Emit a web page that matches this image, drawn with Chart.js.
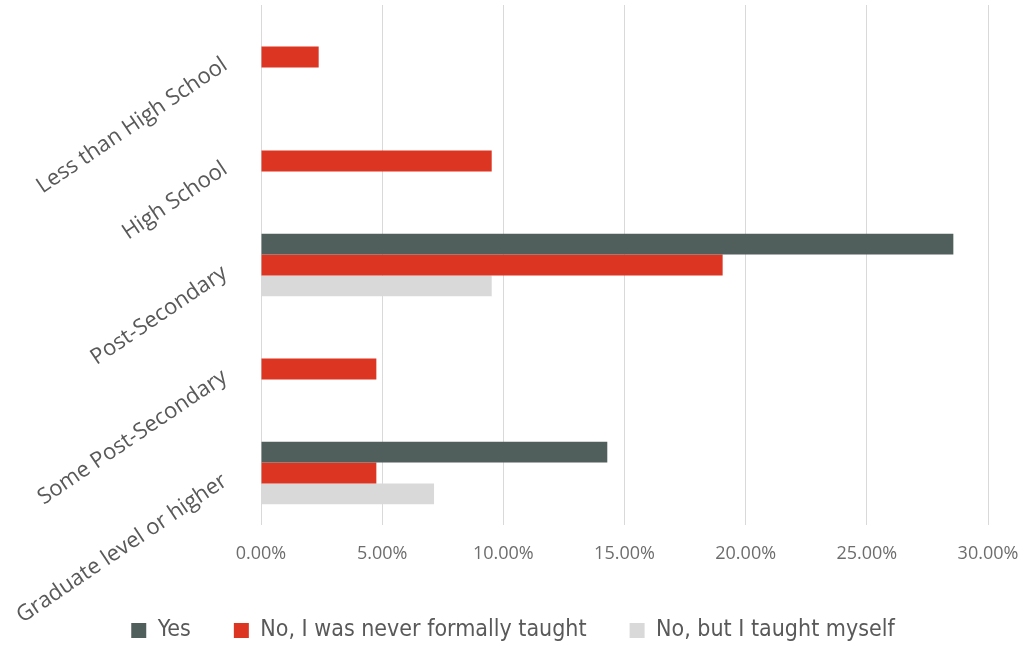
<!DOCTYPE html>
<html>
<head>
<meta charset="utf-8">
<script src="https://cdn.jsdelivr.net/npm/chart.js@4"></script>
<style>
    html, body { margin: 0; padding: 0; background: #ffffff; }
    #wrap { width: 1026px; height: 646px; position: relative; }
</style>
</head>
<body>
<div id="wrap"><canvas id="eduChart"></canvas></div>
<script>
// 教育程度分類與各組回答比例 (%)
const levels = ['Less than High School', 'High School', 'Post-Secondary', 'Some Post-Secondary', 'Graduate level or higher'];
const seriesNames = ['Yes', 'No, I was never formally taught', 'No, but I taught myself'];
const yesValues = [0, 0, 28.57, 0, 14.29];
const neverTaughtValues = [2.38, 9.52, 19.05, 4.76, 4.76];
const selfTaughtValues = [0, 0, 9.52, 0, 7.14];
const xTicks = [0, 5, 10, 15, 20, 25, 30];

const colors = ['#505f5c', '#dc3522', '#d9d9d9'];
const textGrey = '#595959';

const ctx = document.getElementById('eduChart').getContext('2d');

new Chart(ctx, {
    type: 'bar',
    data: {
        labels: levels,
        datasets: [yesValues, neverTaughtValues, selfTaughtValues].map((vals, i) => ({
            label: seriesNames[i],
            data: vals,
            backgroundColor: colors[i],
            borderWidth: 0,
            barPercentage: 1,
            categoryPercentage: 0.6
        }))
    },
    options: {
        indexAxis: 'y',
        responsive: true,
        maintainAspectRatio: false,
        animation: false,
        layout: { padding: { left: 0, right: 0, top: 5, bottom: -6 } },
        plugins: {
            tooltip: { enabled: false },
            legend: {
                position: 'bottom',
                labels: {
                    boxWidth: 15,
                    boxHeight: 15,
                    padding: 43,
                    color: textGrey,
                    font: { family: "'Liberation Sans Narrow', 'DejaVu Sans Condensed', sans-serif", size: 23 }
                }
            }
        },
        scales: {
            x: {
                min: 0,
                max: 30,
                afterBuildTicks: (scale) => { scale.ticks = xTicks.map(v => ({ value: v })); },
                grid: { color: '#d9d9d9', lineWidth: 1, drawTicks: false },
                border: { display: false },
                ticks: {
                    padding: 18,
                    maxRotation: 0,
                    color: '#6d6d6d',
                    font: { family: "'Open Sans', sans-serif", size: 18 },
                    callback: (v) => Number(v).toFixed(2) + '%'
                },
                // 右側留白給 30.00% 標籤，不影響圖例置中
                afterFit: (scale) => {
                    scale.height = 51;
                    scale.paddingLeft = 0;
                    scale.paddingRight = 38;
                }
            },
            y: {
                grid: { display: false },
                border: { display: false },
                ticks: {
                    padding: 28,
                    minRotation: 34,
                    maxRotation: 34,
                    labelOffset: 6,
                    color: textGrey,
                    font: { family: "'Open Sans', sans-serif", size: 22 }
                },
                afterFit: (scale) => {
                    scale.width = 261;
                    scale.paddingTop = 0;
                    scale.paddingBottom = 0;
                }
            }
        }
    }
});
</script>
</body>
</html>
